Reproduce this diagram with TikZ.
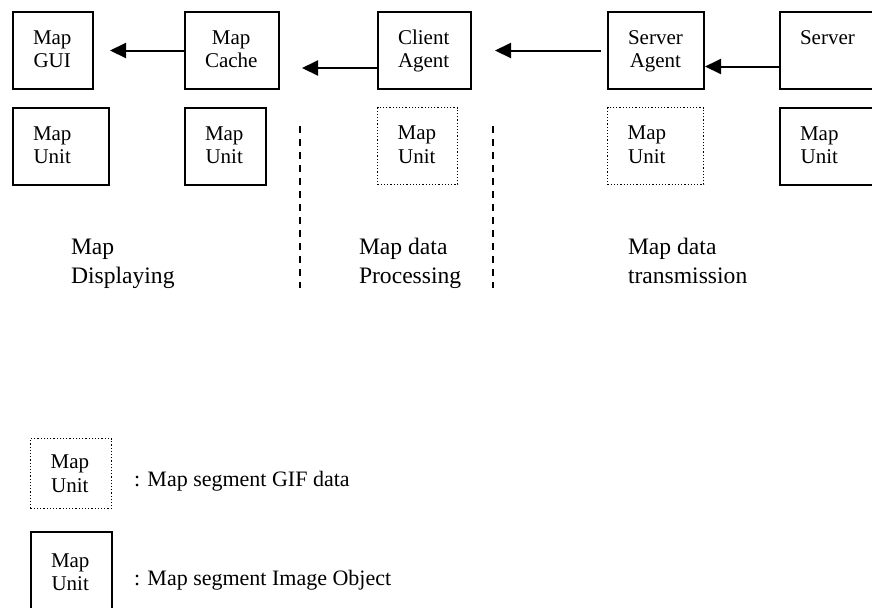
\documentclass[tikz,border=0pt]{standalone}
\usepackage{fontspec}
\setmainfont{Liberation Serif}
\usetikzlibrary{arrows.meta}
\newcommand{\twolines}[1]{\begin{tabular}[t]{@{}c@{}}#1\end{tabular}}
\newcommand{\leftlines}[1]{\begin{tabular}[t]{@{}l@{}}#1\end{tabular}}
\tikzset{
	every path/.style={line width=1pt},
	unit/.style={
		draw,
		rectangle,
		anchor=north west,
		align=left,
		inner xsep=10pt,
		inner ysep=0pt,
		text height=16pt,
		text depth=22.5pt,
		font=\fontsize{10.5}{11.7}\selectfont,
	},
	gif/.style={
		unit,
		densely dotted,
		line width=0.6pt,
	},
	flow/.style={
		-{Triangle[length=8pt,width=7.5pt]}
	},
	border/.style={dash pattern=on 3.3pt off 3.2pt},
	stage/.style={
		anchor=base west,
		inner sep=0pt,
		font=\fontsize{11.8}{14.5}\selectfont,
	},
	note/.style={
		anchor=base west,
		inner sep=0pt,
		font=\fontsize{11}{12.5}\selectfont,
	},
}
\begin{document}
\begin{tikzpicture}[x=0.5pt, y=-0.5pt]
		\useasboundingbox (0,0) rectangle (872,607);

		\node[unit, text width=20pt]   (gui)    at (12,11)  {\twolines{Map\\GUI}};
		\node[unit, text width=27pt]   (cache)  at (184,11) {\twolines{Map\\Cache}};
		\node[unit, text width=26.5pt] (client) at (377,11) {\twolines{Client\\Agent}};
		\node[unit, text width=28pt]   (sagent) at (607,11) {\twolines{Server\\Agent}};
		\node[unit, text width=28pt]   (server) at (779,11) {\twolines{Server}};

		\draw[flow] (cache.west) -- ([xshift=8pt]gui.east);
		\draw[flow] ([yshift=-8.75pt]client.west) -- ([xshift=11pt,yshift=-8.75pt]cache.east);
		\draw[flow] ([xshift=-3pt]sagent.west) -- ([xshift=11.5pt]client.east);
		\draw[flow] ([yshift=-8pt]server.west) -- ([yshift=-8pt]sagent.east);

%*********

		\node[unit, text width=28pt]   (guiunit)    at (12,107)  {\twolines{Map\\Unit}};
		\node[unit, text width=20.5pt] (cacheunit)  at (184,107) {\twolines{Map\\Unit}};
		\node[gif, text width=20pt]    (clientunit) at (377,107) {\twolines{Map\\Unit}};
		\node[gif, text width=28pt]    (sagentunit) at (607,107) {\twolines{Map\\Unit}};
		\node[unit, text width=28pt]   (serverunit) at (779,107) {\twolines{Map\\Unit}};

		\draw[border] (300,126) -- (300,288);
		\draw[border] (493,126) -- (493,288);

		\node[stage] (display) at (70,254)  {\leftlines{Map\\Displaying}};
		\node[stage] (process) at (358,254) {\leftlines{Map data\\Processing}};
		\node[stage] (transmit) at (627,254) {\leftlines{Map data\\transmission}};

%*********

		\node[gif, text width=20.5pt, text height=15pt, text depth=20pt]    (keygif) at (30,438) {\twolines{Map\\Unit}};
		\node[unit, text width=20.5pt, text height=17.5pt, text depth=21pt] (keyobj) at (30,531) {\twolines{Map\\Unit}};

		\node[note] (gifnote) at (133,486) {: Map segment GIF data};
		\node[note] (objnote) at (133,585) {: Map segment Image Object};

	\end{tikzpicture}
\end{document}
